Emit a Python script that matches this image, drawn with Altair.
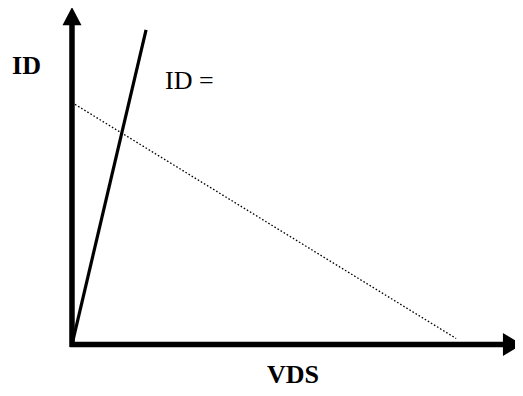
import altair as alt
import pandas as pd

# Axis extents (data units)
axis_x_start = -0.05
axis_x_end = 10.95
axis_y_start = -0.1
axis_y_end = 13.2
arrow_x_tip_pos = 11.18
arrow_y_tip_pos = 13.57

# Steep line (device curve) and dotted load line
steep_x = [0.0, 1.88]
steep_y = [0.0, 13.0]
load_x = [0.0, 9.75]
load_y = [10.0, 0.25]

# Labels
label_text = ["ID", "ID =", "VDS"]
label_x = [-1.52, 2.36, 4.95]
label_y = [11.18, 10.56, -1.6]
label_bold = ["bold", "normal", "bold"]

xs = alt.Scale(domain=[-1.624, 11.244], nice=False, zero=False)
ys = alt.Scale(domain=[-1.797, 13.905], nice=False, zero=False)

X = lambda f: alt.X(f, type="quantitative", scale=xs, axis=None)
Y = lambda f: alt.Y(f, type="quantitative", scale=ys, axis=None)

axes_df = pd.DataFrame({
    "x": [axis_x_start, 0.0],
    "x2": [axis_x_end, 0.0],
    "y": [0.0, axis_y_start],
    "y2": [0.0, axis_y_end],
})
axes = alt.Chart(axes_df).mark_rule(color="black", strokeWidth=5.5, strokeCap="butt").encode(
    x=X("x"), x2="x2", y=Y("y"), y2="y2"
)

up_df = pd.DataFrame({"x": [0.0], "y": [arrow_y_tip_pos]})
up_arrow = alt.Chart(up_df).mark_point(
    shape="M-1,0.95L1,0.95L0,-0.95Z", size=361, filled=True, color="black", opacity=1
).encode(x=X("x"), y=Y("y"))

right_df = pd.DataFrame({"x": [arrow_x_tip_pos], "y": [0.0]})
right_arrow = alt.Chart(right_df).mark_point(
    shape="M-0.83,-1L0.83,0L-0.83,1Z", size=529, filled=True, color="black", opacity=1
).encode(x=X("x"), y=Y("y"))

steep_df = pd.DataFrame({"x": steep_x, "y": steep_y})
steep = alt.Chart(steep_df).mark_line(color="black", strokeWidth=3.2).encode(
    x=X("x"), y=Y("y")
)

load_df = pd.DataFrame({"x": load_x, "y": load_y})
load = alt.Chart(load_df).mark_line(color="black", strokeWidth=1.3, strokeDash=[1.6, 2.0]).encode(
    x=X("x"), y=Y("y")
)

lab_df = pd.DataFrame({"t": label_text, "x": label_x, "y": label_y, "w": label_bold})
labels_bold = alt.Chart(lab_df[lab_df.w == "bold"]).mark_text(
    font="Liberation Serif", fontSize=26, fontWeight="bold", align="left", baseline="alphabetic", color="black"
).encode(x=X("x"), y=Y("y"), text="t:N")
labels_norm = alt.Chart(lab_df[lab_df.w == "normal"]).mark_text(
    font="Liberation Serif", fontSize=26, fontWeight="normal", align="left", baseline="alphabetic", color="black"
).encode(x=X("x"), y=Y("y"), text="t:N")

chart = alt.layer(load, steep, axes, up_arrow, right_arrow, labels_bold, labels_norm).properties(
    width=507, height=380, padding=0, autosize=alt.AutoSizeParams(type="none")
).configure(background="white", view=alt.ViewConfig(strokeWidth=0))

chart.save("out.html", embed_options={"renderer": "svg", "actions": False})
